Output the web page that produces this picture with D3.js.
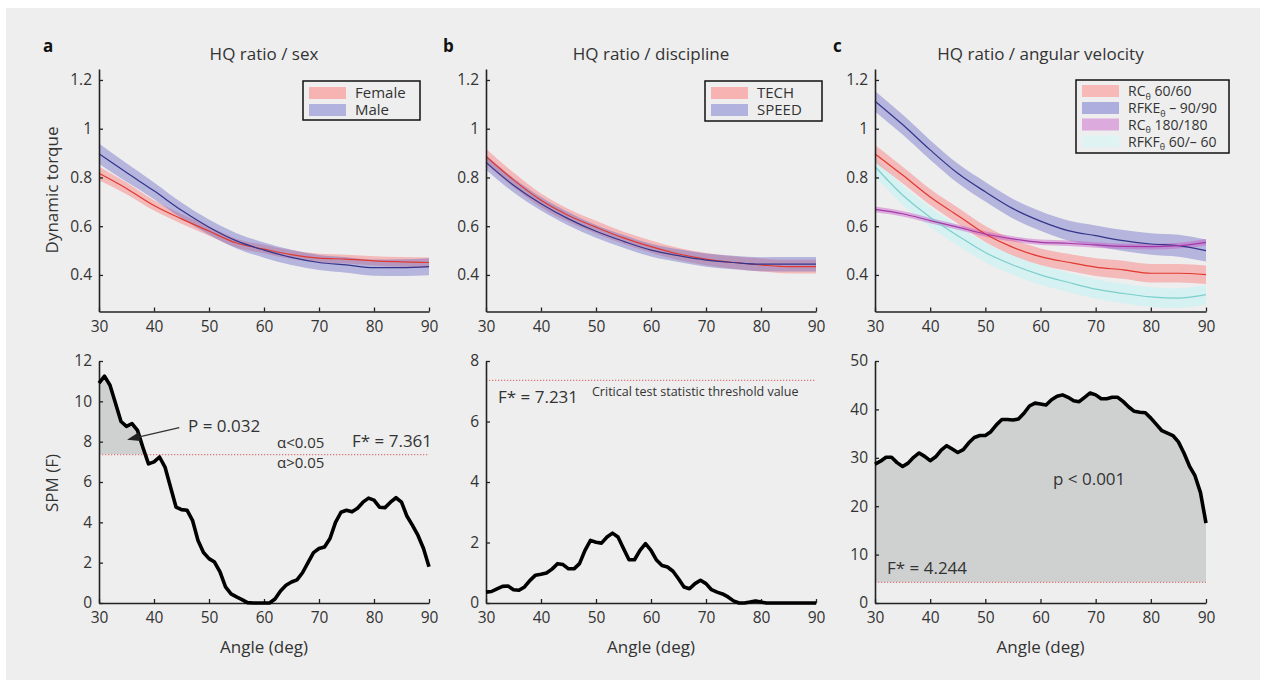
<!DOCTYPE html>
<html><head><meta charset="utf-8">
<script src="https://cdn.jsdelivr.net/npm/d3@7"></script>
<style>
html,body{margin:0;padding:0;background:#fff;}
svg{display:block;font-family:"Open Sans","Noto Sans",sans-serif;}
</style></head>
<body>
<svg id="chart" width="1266" height="680"></svg>
<script>
// ---------- DATA ----------
const angleTop = [30,35,40,45,50,55,60,65,70,75,80,85,90];
// Panel a: sex
const femaleMean   = [0.817,0.755,0.685,0.630,0.580,0.531,0.506,0.483,0.469,0.465,0.458,0.454,0.451];
const femaleSpread = [0.028,0.024,0.021,0.020,0.019,0.018,0.018,0.018,0.018,0.018,0.019,0.020,0.021];
const maleMean     = [0.897,0.820,0.745,0.665,0.596,0.540,0.502,0.472,0.451,0.441,0.430,0.430,0.434];
const maleSpread   = [0.042,0.038,0.034,0.032,0.031,0.031,0.031,0.031,0.031,0.032,0.033,0.034,0.035];
// Panel b: discipline
const techMean    = [0.886,0.790,0.706,0.644,0.596,0.552,0.516,0.486,0.465,0.451,0.441,0.434,0.434];
const techSpread  = [0.032,0.030,0.028,0.027,0.026,0.025,0.025,0.025,0.025,0.026,0.027,0.028,0.028];
const speedMean   = [0.862,0.768,0.692,0.630,0.579,0.538,0.502,0.479,0.461,0.451,0.444,0.444,0.444];
const speedSpread = [0.030,0.029,0.028,0.027,0.026,0.026,0.026,0.026,0.027,0.028,0.029,0.030,0.030];
// Panel c: angular velocity
const rc60Mean     = [0.897,0.810,0.720,0.644,0.568,0.513,0.475,0.452,0.432,0.421,0.407,0.407,0.401];
const rc60Spread   = [0.036,0.034,0.033,0.033,0.033,0.033,0.034,0.035,0.036,0.037,0.038,0.038,0.038];
const rfkeMean     = [1.113,1.017,0.913,0.817,0.741,0.672,0.621,0.582,0.561,0.541,0.527,0.520,0.500];
const rfkeSpread   = [0.042,0.041,0.040,0.040,0.040,0.040,0.040,0.041,0.042,0.043,0.044,0.045,0.045];
const rc180Mean    = [0.669,0.651,0.623,0.596,0.568,0.548,0.534,0.530,0.523,0.517,0.516,0.520,0.534];
const rc180Spread  = [0.012,0.011,0.011,0.011,0.011,0.011,0.011,0.011,0.011,0.011,0.012,0.012,0.013];
const rfkfMean     = [0.845,0.728,0.637,0.561,0.492,0.441,0.400,0.370,0.342,0.324,0.310,0.305,0.319];
const rfkfSpread   = [0.040,0.040,0.040,0.040,0.040,0.040,0.040,0.040,0.040,0.040,0.040,0.040,0.040];

// SPM statistics (bottom row)
const spmAngles = [30,31,32,33,34,35,36,37,38,39,40,41,42,43,44,45,46,47,48,49,50,51,52,53,54,55,56,57,58,59,60,
                   61,62,63,64,65,66,67,68,69,70,71,72,73,74,75,76,77,78,79,80,81,82,83,84,85,86,87,88,89,90];
const spmSex = [10.9,11.25,10.8,9.9,9.0,8.76,8.9,8.56,7.7,6.9,7.0,7.24,6.74,5.75,4.76,4.63,4.6,4.1,3.1,2.5,2.2,
                2.03,1.54,0.8,0.45,0.3,0.17,0.02,0,0,0,0,0.2,0.6,0.88,1.04,1.15,1.5,2.0,2.5,2.7,
                2.78,3.2,4.0,4.5,4.6,4.52,4.7,5.0,5.2,5.1,4.75,4.73,5.0,5.22,5.0,4.3,3.85,3.35,2.7,1.8];
const spmDiscipline = [0.36,0.38,0.47,0.55,0.56,0.44,0.42,0.53,0.75,0.92,0.95,0.99,1.12,1.3,1.27,1.13,1.13,1.3,1.74,2.07,2.01,
                1.98,2.18,2.31,2.18,1.8,1.43,1.43,1.74,1.96,1.74,1.42,1.24,1.19,1.05,0.8,0.53,0.47,0.64,0.75,0.64,
                0.44,0.36,0.3,0.2,0.07,0,0,0.03,0.07,0.03,0,0,0,0,0,0,0,0,0,0];
const spmVelocity = [28.7,29.3,30.1,30.1,29.0,28.2,28.9,30.1,31.0,30.3,29.4,30.2,31.6,32.5,31.8,31.1,31.7,33.1,34.2,34.6,34.6,
                35.4,36.8,37.9,37.9,37.8,38.0,39.2,40.7,41.3,41.1,40.9,42.0,42.7,43.0,42.5,41.8,41.6,42.5,43.4,43.0,
                42.2,42.2,42.5,42.5,41.6,40.5,39.6,39.4,39.3,38.2,36.9,35.6,35.1,34.6,33.3,31.0,28.3,26.3,22.8,16.5];

const xTicks = [30,40,50,60,70,80,90];
const yTopTicks = [0.4,0.6,0.8,1,1.2];
const yTicksSex = [0,2,4,6,8,10,12];
const yTicksDiscipline = [0,2,4,6,8];
const yTicksVelocity = [0,10,20,30,40,50];
const thresholdSex = 7.361, thresholdDiscipline = 7.231, thresholdVelocity = 4.244;
const thresholdDisciplineDrawn = 7.36; // line position as drawn in the figure

const titles = ["HQ ratio / sex","HQ ratio / discipline","HQ ratio / angular velocity"];
const panelLetters = ["a","b","c"];

// ---------- STYLE ----------
const C = {
  bg:"#eeeeee", axis:"#222", text:"#333",
  redBand:"rgba(250,120,120,0.45)", redLine:"#e0392f",
  blueBand:"rgba(110,110,200,0.45)", blueLine:"#34348a",
  magBand:"rgba(200,90,200,0.45)", magLine:"#a33aa6",
  cyanBand:"rgba(205,242,242,0.75)", cyanLine:"#7ccfcd",
  fill:"#cfd1d1", thresh:"#e07a7a"
};

const svg = d3.select("#chart");
svg.append("rect").attr("x",6).attr("y",8).attr("width",1254).attr("height",672).attr("fill",C.bg);

const xRanges = [[99,429],[486,816],[875,1206]];
const topY = d3.scaleLinear().domain([0.25,1.245]).range([311.5,69]);

function drawXAxis(g, x, yPos){
  const ax = d3.axisBottom(x).tickValues(xTicks).tickSizeInner(-4).tickSizeOuter(0).tickPadding(9).tickFormat(d3.format("d"));
  const a = g.append("g").attr("transform",`translate(0,${yPos})`).call(ax);
  styleAxis(a);
}
function drawYAxis(g, y, xPos, ticks, fmt){
  const ax = d3.axisLeft(y).tickValues(ticks).tickSizeInner(-4).tickSizeOuter(0).tickPadding(7).tickFormat(fmt);
  const a = g.append("g").attr("transform",`translate(${xPos},0)`).call(ax);
  styleAxis(a);
}
function styleAxis(a){
  a.select(".domain").attr("stroke",C.axis).attr("stroke-width",1.6);
  a.selectAll(".tick line").attr("stroke",C.axis).attr("stroke-width",1.3);
  a.selectAll(".tick text").attr("fill",C.text).style("font-size","15.5px").style("font-family",'"Open Sans","Noto Sans",sans-serif');
}
const fmtTop = d => d===1 ? "1" : d3.format(".1f")(d);

function band(g, x, y, mean, spread, fill){
  const data = angleTop.map((a,i)=>({a, lo:mean[i]-spread[i], hi:mean[i]+spread[i]}));
  g.append("path").datum(data)
    .attr("d", d3.area().x(d=>x(d.a)).y0(d=>y(d.lo)).y1(d=>y(d.hi)).curve(d3.curveMonotoneX))
    .attr("fill", fill);
}
function meanLine(g, x, y, mean, stroke, w){
  g.append("path").datum(angleTop.map((a,i)=>({a, v:mean[i]})))
    .attr("d", d3.line().x(d=>x(d.a)).y(d=>y(d.v)).curve(d3.curveMonotoneX))
    .attr("fill","none").attr("stroke",stroke).attr("stroke-width",w||1.2);
}

function legend(g, x0, y0, w, h, items, textX, fs){
  g.append("rect").attr("x",x0).attr("y",y0).attr("width",w).attr("height",h)
    .attr("fill",C.bg).attr("stroke","#111").attr("stroke-width",1.5);
  items.forEach((it,i)=>{
    const cy = it.cy;
    g.append("rect").attr("x",x0+6).attr("y",cy-6).attr("width",textX-x0-15).attr("height",12).attr("fill",it.color);
    const t = g.append("text").attr("x",textX).attr("y",cy+5).attr("fill",C.text).style("font-size",fs+"px");
    it.parts.forEach(p=>{
      if(p.sub){ t.append("tspan").text(p.t).attr("dy",3.5).style("font-size","9px"); }
      else { t.append("tspan").text(p.t).attr("dy",p.after? -3.5:0); }
    });
  });
}

// ---------- TOP ROW ----------
const topSeries = [
  [ {m:femaleMean,s:femaleSpread,band:C.redBand,line:C.redLine}, {m:maleMean,s:maleSpread,band:C.blueBand,line:C.blueLine} ],
  [ {m:techMean,s:techSpread,band:C.redBand,line:C.redLine}, {m:speedMean,s:speedSpread,band:C.blueBand,line:C.blueLine} ],
  [ {m:rfkfMean,s:rfkfSpread,band:C.cyanBand,line:C.cyanLine}, {m:rc60Mean,s:rc60Spread,band:C.redBand,line:C.redLine},
    {m:rfkeMean,s:rfkeSpread,band:C.blueBand,line:C.blueLine}, {m:rc180Mean,s:rc180Spread,band:C.magBand,line:C.magLine} ]
];

xRanges.forEach((r,pi)=>{
  const x = d3.scaleLinear().domain([30,90]).range(r);
  const g = svg.append("g");
  topSeries[pi].forEach(s=>band(g,x,topY,s.m,s.s,s.band));
  topSeries[pi].forEach(s=>meanLine(g,x,topY,s.m,s.line,1.2));
  drawXAxis(g,x,311.5);
  drawYAxis(g,topY,r[0],yTopTicks,fmtTop);
  g.append("text").attr("x",(r[0]+r[1])/2).attr("y",60).attr("text-anchor","middle")
    .attr("fill",C.text).style("font-size","17px").text(titles[pi]);
  g.append("text").attr("x",r[0]-56 + (pi===1? 13: pi===2? 14:0)).attr("y",52).attr("fill","#111")
    .style("font-size","17px").style("font-weight","bold").text(panelLetters[pi]);
});

// legends
legend(svg, 303, 81, 117, 39, [
  {cy:93, color:"rgba(247,178,178,1)", parts:[{t:"Female"}]},
  {cy:110, color:"rgba(178,178,222,1)", parts:[{t:"Male"}]}
], 355, 15);
legend(svg, 705, 81, 117, 40, [
  {cy:93, color:"rgba(247,178,178,1)", parts:[{t:"TECH"}]},
  {cy:110, color:"rgba(178,178,222,1)", parts:[{t:"SPEED"}]}
], 757, 15);
legend(svg, 1076, 80, 153, 73, [
  {cy:91, color:"#f7b8b8", parts:[{t:"RC"},{t:"θ",sub:true},{t:" 60/60",after:true}]},
  {cy:108, color:"#aeaede", parts:[{t:"RFKE"},{t:"θ",sub:true},{t:" – 90/90",after:true}]},
  {cy:124.5, color:"#dcaadc", parts:[{t:"RC"},{t:"θ",sub:true},{t:" 180/180",after:true}]},
  {cy:141.5, color:"#dff3f3", parts:[{t:"RFKF"},{t:"θ",sub:true},{t:" 60/– 60",after:true}]}
], 1128, 14);

svg.append("text").attr("transform","translate(58,190) rotate(-90)").attr("text-anchor","middle")
  .attr("fill",C.text).style("font-size","17px").text("Dynamic torque");

// ---------- BOTTOM ROW ----------
const spmSets = [
  {v:spmSex, max:12, ticks:yTicksSex, thrDrawn:thresholdSex},
  {v:spmDiscipline, max:8, ticks:yTicksDiscipline, thrDrawn:thresholdDisciplineDrawn},
  {v:spmVelocity, max:50, ticks:yTicksVelocity, thrDrawn:thresholdVelocity}
];
const scalesB = [];
xRanges.forEach((r,pi)=>{
  const S = spmSets[pi];
  const x = d3.scaleLinear().domain([30,90]).range(r);
  const y = d3.scaleLinear().domain([0,S.max]).range([603,361]);
  scalesB.push({x,y});
  const g = svg.append("g");
  const data = spmAngles.map((a,i)=>({a, v:S.v[i]}));
  const clipId = "clip"+pi;
  g.append("clipPath").attr("id",clipId).append("rect")
    .attr("x",r[0]).attr("y",300).attr("width",r[1]-r[0]).attr("height",y(S.thrDrawn)-300);
  g.append("path").datum(data).attr("clip-path",`url(#${clipId})`)
    .attr("d", d3.area().x(d=>x(d.a)).y0(y(S.thrDrawn)).y1(d=>y(d.v)))
    .attr("fill",C.fill);
  g.append("line").attr("x1",r[0]).attr("x2",r[1]).attr("y1",y(S.thrDrawn)).attr("y2",y(S.thrDrawn))
    .attr("stroke",C.thresh).attr("stroke-width",1.2).attr("stroke-dasharray","1.2,1.8");
  drawXAxis(g,x,603);
  drawYAxis(g,y,r[0],S.ticks,d3.format("d"));
  g.append("path").datum(data)
    .attr("d", d3.line().x(d=>x(d.a)).y(d=>y(d.v)))
    .attr("fill","none").attr("stroke","#000").attr("stroke-width",3.6)
    .attr("stroke-linejoin","round").attr("stroke-linecap","butt");
  g.append("text").attr("x",(r[0]+r[1])/2).attr("y",653).attr("text-anchor","middle")
    .attr("fill",C.text).style("font-size","17px").text("Angle (deg)");
});

svg.append("text").attr("transform","translate(58,483) rotate(-90)").attr("text-anchor","middle")
  .attr("fill",C.text).style("font-size","17px").text("SPM (F)");

// annotations panel a
{
  const {x,y} = scalesB[0];
  const tipX = x(35.1), tipY = y(8.1), tailX = x(44.6), tailY = y(8.7);
  svg.append("line").attr("x1",tailX).attr("y1",tailY).attr("x2",tipX+10).attr("y2",tipY-2.3)
    .attr("stroke","#333").attr("stroke-width",1.3);
  const ang = Math.atan2(tailY-tipY, tailX-tipX);
  const L=13, W=4.5;
  const bx = tipX + L*Math.cos(ang), by = tipY + L*Math.sin(ang);
  const px = -Math.sin(ang), py = Math.cos(ang);
  svg.append("path").attr("d",`M${tipX},${tipY}L${bx+W*px},${by+W*py}L${bx-W*px},${by-W*py}Z`).attr("fill","#222");
  svg.append("text").attr("x",188).attr("y",432).attr("fill",C.text).style("font-size","17px").text("P = 0.032");
  svg.append("text").attr("x",277).attr("y",448).attr("fill",C.text).style("font-size","15px").text("α<0.05");
  svg.append("text").attr("x",277).attr("y",468).attr("fill",C.text).style("font-size","15px").text("α>0.05");
  svg.append("text").attr("x",352).attr("y",447).attr("fill",C.text).style("font-size","17px").text("F* = "+thresholdSex);
}
svg.append("text").attr("x",498).attr("y",403).attr("fill",C.text).style("font-size","17px").text("F* = "+thresholdDiscipline);
svg.append("text").attr("x",592).attr("y",396).attr("fill",C.text).style("font-size","12.5px").text("Critical test statistic threshold value");
svg.append("text").attr("x",1053).attr("y",485).attr("fill",C.text).style("font-size","17px").text("p < 0.001");
svg.append("text").attr("x",887).attr("y",574).attr("fill",C.text).style("font-size","17px").text("F* = "+thresholdVelocity);
</script>
</body></html>
